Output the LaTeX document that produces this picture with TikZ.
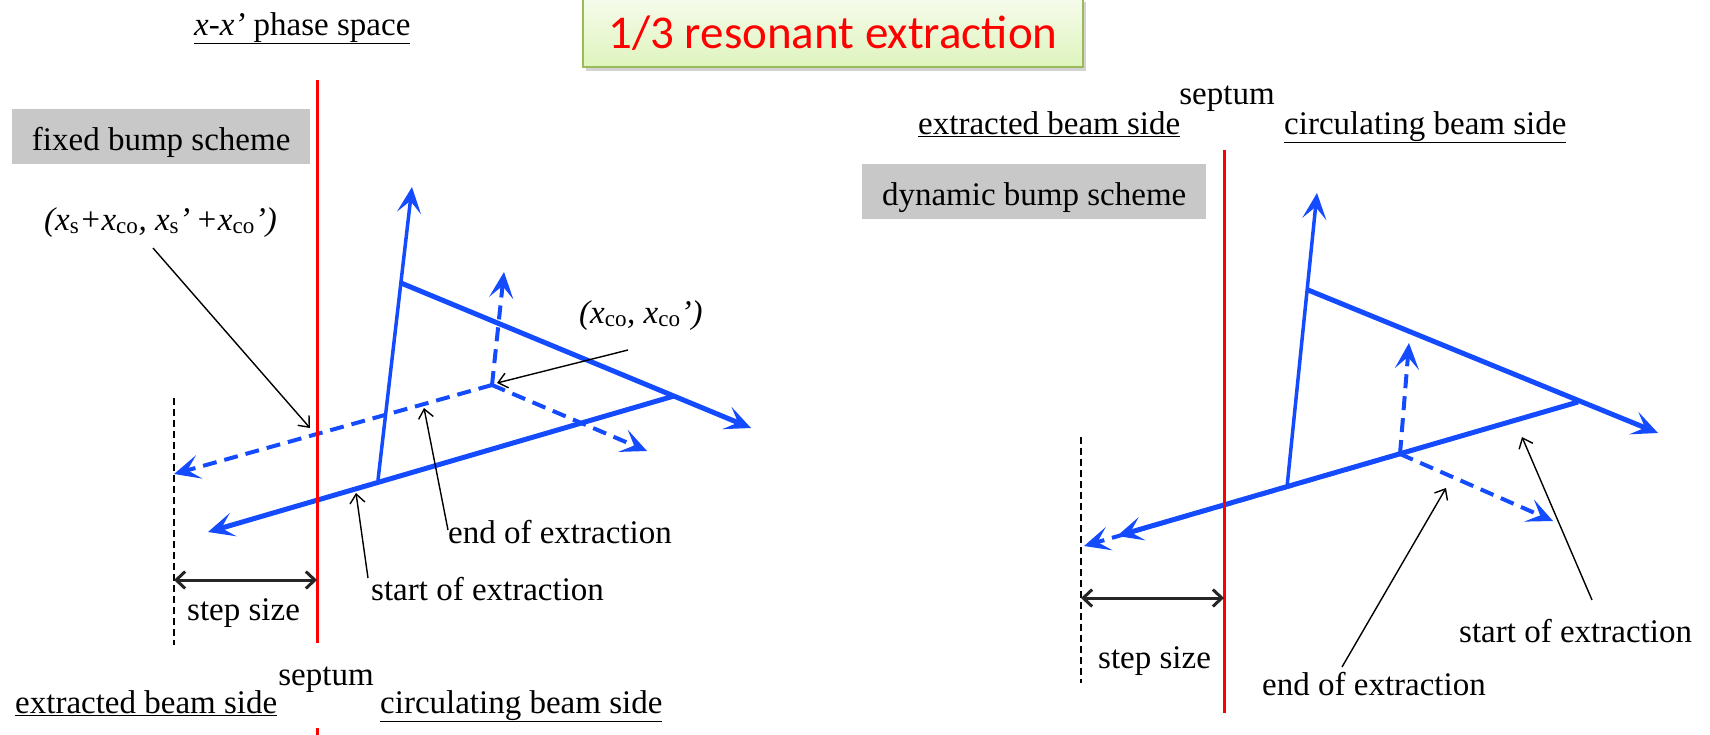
\documentclass[tikz,border=0pt]{standalone}
\usepackage{fontspec}
\setmainfont{Liberation Serif}
\newfontfamily\titlefont{Carlito}
\usepackage{tikz}
\usetikzlibrary{positioning,arrows.meta,shapes,calc,shadows}
\usepackage{xcolor}
\definecolor{beamblue}{RGB}{20,75,255}
\definecolor{boxgray}{RGB}{200,200,200}
\definecolor{titleedge}{RGB}{155,187,89}
\definecolor{titletop}{RGB}{246,251,236}
\definecolor{titlebot}{RGB}{222,244,188}
\newcommand{\sub}[1]{\textsubscript{\textup{#1}}}

\begin{document}
\begin{tikzpicture}[x=1pt, y=-1pt,
    txt/.style={inner sep=0pt, anchor=base west, font=\fontsize{33}{40}\selectfont},
    schemebox/.style={fill=boxgray, anchor=base west, inner xsep=0pt, inner ysep=0pt,
                      text height=41pt, text depth=14pt, font=\fontsize{33}{40}\selectfont},
    titlebox/.style={draw=titleedge, line width=2pt, top color=titletop, bottom color=titlebot,
                     anchor=base west, inner xsep=0pt, inner ysep=0pt, minimum width=500pt,
                     text height=50pt, text depth=19pt, text=red,
                     font=\titlefont\fontsize{47}{56}\selectfont,
                     drop shadow={opacity=0.35, shadow xshift=3pt, shadow yshift=-4pt}},
    septumline/.style={red, line width=3pt},
    beam/.style={beamblue, line width=5pt, -{Stealth[length=26pt,width=24pt,inset=12pt]}},
    beamthin/.style={beam, line width=3.5pt},
    ghost/.style={beam, line width=4pt, dash pattern=on 14pt off 8pt},
    pointer/.style={black, line width=1.4pt, -{Straight Barb[length=9pt,width=15pt]}},
    stepline/.style={black!85, line width=3pt,
                     {Straight Barb[length=9pt,width=17pt]}-{Straight Barb[length=9pt,width=17pt]}},
    limitline/.style={black, line width=1.3pt, dash pattern=on 7pt off 4pt}
]
    \useasboundingbox (0,0) rectangle (1710,734);

    % title
    \node[titlebox] (title) at (582,48) {1/3 resonant extraction};

    % ---------------- fixed bump scheme ----------------
    \node[txt] (fphase) at (194,35) {\underline{\textit{x}-\textit{x’} phase space}};
    \node[schemebox, minimum width=298pt] (fbox) at (12,150) {fixed bump scheme};

    \coordinate (fBase) at (378,480);
    \coordinate (fUp) at (412,187);
    \coordinate (fKnee) at (401,283);
    \coordinate (fRight) at (751,428);
    \coordinate (fCorner) at (674,396);
    \coordinate (fLeft) at (208,532);
    \coordinate (fO) at (492,385);
    \coordinate (fOLeft) at (174,474);
    \coordinate (fODown) at (647,451);
    \coordinate (fOUp) at (504,272);

    \draw[ghost] (fO) -- (fOLeft);
    \draw[ghost] (fO) -- (fODown);
    \draw[ghost] (fO) -- (fOUp);
    \draw[beamthin] (fBase) -- (fUp);
    \draw[beam] (fKnee) -- (fRight);
    \draw[beam] (fCorner) -- (fLeft);

    \draw[septumline] (317,80) coordinate (fsTop) -- (317,643) coordinate (fsBot);
    \draw[septumline] (317,728) -- (317,740);

    \draw[limitline] (174,398) coordinate (flTop) -- (174,645) coordinate (flBot);
    \draw[stepline] (174,580) coordinate (fsA) -- (317,580) coordinate (fsB);
    \node[txt] (fstep) at (187,620) {step size};

    \node[txt] (fxs) at (44,230) {\textit{(x\sub{s}+x\sub{co}, x\sub{s}’\,+x\sub{co}’)}};
    \node[txt] (fxco) at (579,323) {\textit{(x\sub{co}, x\sub{co}’)}};
    \node[txt] (fend) at (448,543) {end of extraction};
    \node[txt] (fstart) at (371,600) {start of extraction};

    \coordinate (fxsFoot) at (153,248);
    \coordinate (fxsTip) at (310,428);
    \coordinate (fxcoFoot) at (628,350);
    \coordinate (fxcoTip) at (497,383);
    \coordinate (fendFoot) at (448,530);
    \coordinate (fendTip) at (424,408);
    \coordinate (fstartFoot) at (368,578);
    \coordinate (fstartTip) at (356,493);
    \draw[pointer] (fxsFoot) -- (fxsTip);
    \draw[pointer] (fxcoFoot) -- (fxcoTip);
    \draw[pointer] (fendFoot) -- (fendTip);
    \draw[pointer] (fstartFoot) -- (fstartTip);

    \node[txt, anchor=base] (fseptum) at (326,685) {septum};
    \node[txt] (fext) at (15,713) {\underline{extracted beam side}};
    \node[txt] (fcirc) at (380,713) {\underline{circulating beam side}};

    % ---------------- dynamic bump scheme ----------------
    \node[txt, anchor=base] (dseptum) at (1227,104) {septum};
    \node[txt] (dext) at (918,134) {\underline{extracted beam side}};
    \node[txt] (dcirc) at (1284,134) {\underline{circulating beam side}};
    \node[schemebox, minimum width=344pt] (dbox) at (862,205) {dynamic bump scheme};

    \coordinate (dBase) at (1287,487);
    \coordinate (dUp) at (1317,193);
    \coordinate (dKnee) at (1308,290);
    \coordinate (dRight) at (1658,433);
    \coordinate (dCorner) at (1578,402);
    \coordinate (dLeft) at (1117,536);
    \coordinate (dO) at (1400,454);
    \coordinate (dOLeft) at (1084,546);
    \coordinate (dODown) at (1553,521);
    \coordinate (dOUp) at (1409,343);

    \draw[ghost] (dO) -- (dOLeft);
    \draw[ghost] (dO) -- (dODown);
    \draw[ghost] (dO) -- (dOUp);
    \draw[beamthin] (dBase) -- (dUp);
    \draw[beam] (dKnee) -- (dRight);
    \draw[beam] (dCorner) -- (dLeft);

    \draw[septumline] (1224,150) coordinate (dsTop) -- (1224,713) coordinate (dsBot);

    \draw[limitline] (1081,437) coordinate (dlTop) -- (1081,683) coordinate (dlBot);
    \draw[stepline] (1081,598) coordinate (dsA) -- (1224,598) coordinate (dsB);
    \node[txt] (dstep) at (1098,668) {step size};

    \node[txt] (dend) at (1262,695) {end of extraction};
    \node[txt] (dstart) at (1459,642) {start of extraction};

    \coordinate (dendFoot) at (1342,667);
    \coordinate (dendTip) at (1446,488);
    \coordinate (dstartFoot) at (1592,600);
    \coordinate (dstartTip) at (1522,437);
    \draw[pointer] (dendFoot) -- (dendTip);
    \draw[pointer] (dstartFoot) -- (dstartTip);
\end{tikzpicture}
\end{document}
